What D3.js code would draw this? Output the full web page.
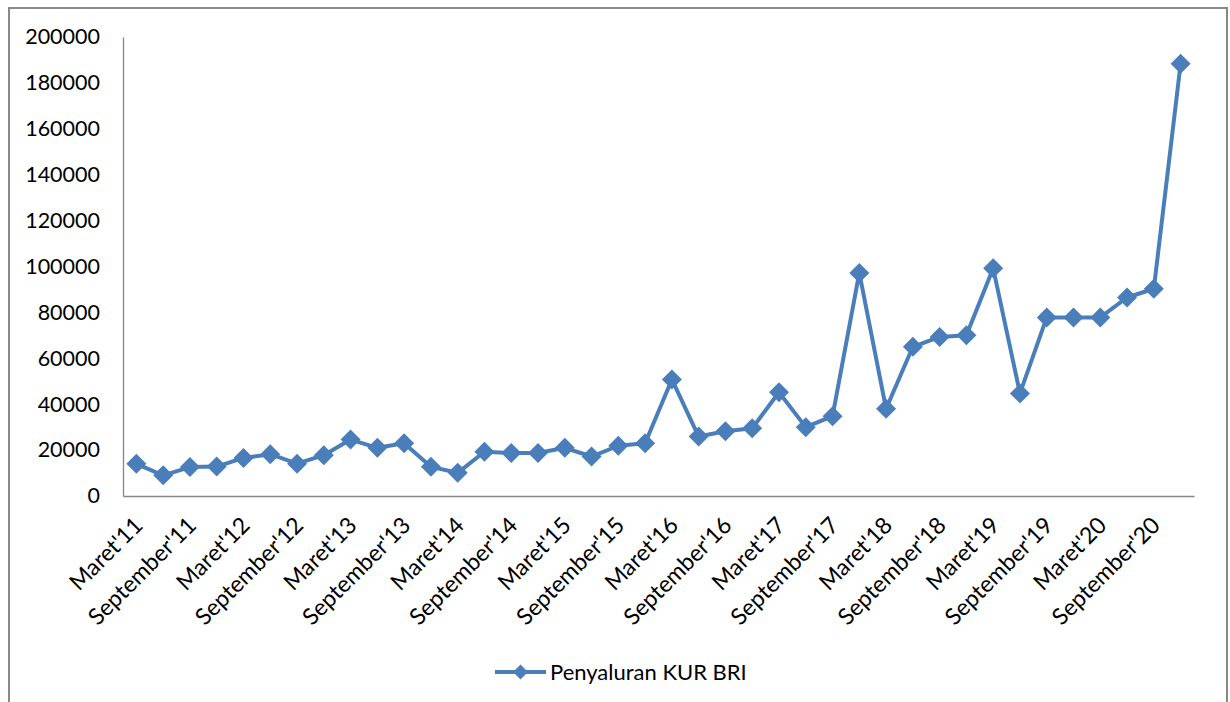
<!DOCTYPE html>
<html>
<head>
<meta charset="utf-8">
<script src="https://cdn.jsdelivr.net/npm/d3@7"></script>
<style>
  html, body { margin: 0; padding: 0; background: #fff; }
  svg { display: block; }
  text { font-family: Lato, "Open Sans", sans-serif; fill: #000; }
</style>
</head>
<body>
<svg id="chart" width="1230" height="702"></svg>
<script>
// ---- data ----
const categories = [
  "Maret'11","Juni'11","September'11","Desember'11",
  "Maret'12","Juni'12","September'12","Desember'12",
  "Maret'13","Juni'13","September'13","Desember'13",
  "Maret'14","Juni'14","September'14","Desember'14",
  "Maret'15","Juni'15","September'15","Desember'15",
  "Maret'16","Juni'16","September'16","Desember'16",
  "Maret'17","Juni'17","September'17","Desember'17",
  "Maret'18","Juni'18","September'18","Desember'18",
  "Maret'19","Juni'19","September'19","Desember'19",
  "Maret'20","Juni'20","September'20","Desember'20"
];
const values = [
  14000, 9000, 12600, 12800,
  16600, 18200, 14100, 17800,
  24600, 21000, 23000, 12700,
  10100, 19300, 18700, 18700,
  21000, 17200, 21900, 23000,
  50800, 25900, 28200, 29500,
  45200, 30000, 34800, 97200,
  38000, 65000, 69300, 70000,
  99200, 44700, 77800, 77800,
  77800, 86500, 90300, 188300
];
const tickLabels = categories.filter((c, i) => i % 2 === 0);
const yTicks = [0, 20000, 40000, 60000, 80000, 100000, 120000, 140000, 160000, 180000, 200000];
const seriesName = "Penyaluran KUR BRI";

// ---- layout ----
const svg = d3.select("#chart");
const color = "#4A7EBB";
const axisColor = "#868686";
const mLeft = 123, mRight = 1194, mTop = 37, mBottom = 496;

// outer frame
svg.append("rect")
  .attr("x", 9).attr("y", 8).attr("width", 1218).attr("height", 730)
  .attr("fill", "none").attr("stroke", "#888").attr("stroke-width", 2);

const x = d3.scaleBand().domain(categories).range([mLeft, mRight]);
const y = d3.scaleLinear().domain([0, 200000]).range([mBottom, mTop]);
const cx = c => x(c) + x.bandwidth() / 2;

// y axis
const yAxis = svg.append("g").attr("transform", `translate(${mLeft},0)`)
  .call(d3.axisLeft(y).tickValues(yTicks).tickSize(0).tickPadding(23).tickFormat(d3.format("d")));
yAxis.select(".domain").attr("stroke", axisColor).attr("stroke-width", 1.3);
yAxis.selectAll("text").attr("font-size", 21.5).attr("font-family", "Lato, sans-serif").attr("fill", "#111");

// x axis
const xAxis = svg.append("g").attr("transform", `translate(0,${mBottom})`)
  .call(d3.axisBottom(x).tickValues(tickLabels).tickSize(0).tickFormat(""));
xAxis.select(".domain").attr("stroke", axisColor).attr("stroke-width", 1.3);
xAxis.selectAll(".tick").append("text")
  .attr("text-anchor", "end")
  .attr("font-size", 23)
  .attr("fill", "#111")
  .attr("dy", "0.35em")
  .attr("transform", "translate(2,25) rotate(-45)")
  .text(d => d);

// line
const line = d3.line().x((d, i) => cx(categories[i])).y(d => y(d));
svg.append("path").datum(values)
  .attr("d", line)
  .attr("fill", "none").attr("stroke", color).attr("stroke-width", 4)
  .attr("stroke-linejoin", "round");

// markers
const diamond = d3.symbol(d3.symbolSquare, 200);
svg.append("g").selectAll("path").data(values).join("path")
  .attr("d", diamond)
  .attr("transform", (d, i) => `translate(${cx(categories[i])},${y(d)}) rotate(45)`)
  .attr("fill", color);

// legend
const lg = svg.append("g").attr("transform", "translate(495,672)");
lg.append("line").attr("x1", 0).attr("x2", 51).attr("y1", 0).attr("y2", 0)
  .attr("stroke", color).attr("stroke-width", 4);
lg.append("path").attr("d", d3.symbol(d3.symbolSquare, 110)).attr("transform", "translate(25.5,0) rotate(45)")
  .attr("fill", color);
lg.append("text").attr("x", 55).attr("y", 0).attr("dy", "0.35em")
  .attr("font-size", 22).attr("fill", "#111").text(seriesName);
</script>
</body>
</html>
